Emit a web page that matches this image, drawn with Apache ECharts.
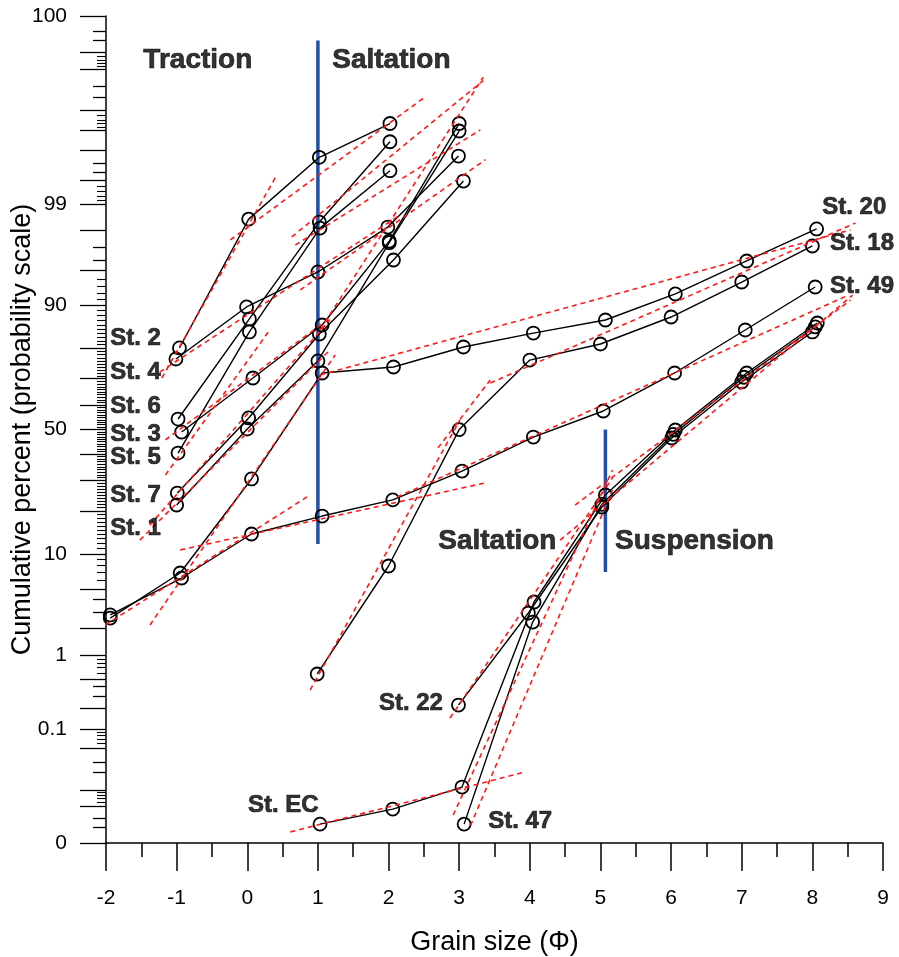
<!DOCTYPE html>
<html><head><meta charset="utf-8">
<script src="https://cdn.jsdelivr.net/npm/echarts@6/dist/echarts.min.js"></script>
<style>html,body{margin:0;padding:0;background:#fff}#c{width:899px;height:957px}</style>
</head><body><div id="c"></div>
<script>
// ---- axis definitions (percent) ----
const yAxisMinPct = 0.001, yAxisMaxPct = 99.999;
const yLabelPcts = [0.001, 0.1, 1, 10, 50, 90, 99, 99.999];
const yLabelTexts = ['0', '0.1', '1', '10', '50', '90', '99', '100'];
const yLongTickPcts = [0.001,0.005,0.01,0.05,0.1,0.2,0.5,1,2,5,10,20,30,40,50,60,70,80,90,95,98,99,99.5,99.8,99.9,99.95,99.99,99.995,99.999];
const yShortTickPcts = [0.002,0.003,0.02,0.03,0.3,0.4,3,4,96,97,99.6,99.7,99.97,99.98,99.997,99.998];
const yTinyTickPcts = [0.006,0.007,0.008,0.009,0.06,0.07,0.08,0.09,0.6,0.7,0.8,0.9,6,7,8,9,
  11,12,13,14,15,16,17,18,19,21,22,23,24,25,26,27,28,29,31,32,33,34,35,36,37,38,39,41,42,43,44,45,46,47,48,49,
  51,52,53,54,55,56,57,58,59,61,62,63,64,65,66,67,68,69,71,72,73,74,75,76,77,78,79,81,82,83,84,85,86,87,88,89,
  91,92,93,94,99.1,99.2,99.3,99.4,99.91,99.92,99.93,99.94,99.991,99.992,99.993,99.994];

// ---- stations: grain size (phi) and cumulative percent ----
const st2_x = [-0.96, 0.02, 1.02, 2.02];
const st2_p = [79.98, 98.50, 99.75, 99.92];
const st4_x = [-1.01, -0.01, 1.0, 1.99, 2.99];
const st4_p = [76.65, 89.69, 94.79, 98.16, 99.76];
const st6_x = [-0.98, 0.03, 1.02, 2.02];
const st6_p = [54.3, 87.29, 98.38, 99.85];
const st3_x = [-0.93, 0.08, 1.06, 2.01, 3.00];
const st3_p = [48.96, 70.23, 85.95, 97.4, 99.92];
const st5_x = [-0.98, 0.03, 1.03, 2.02];
const st5_p = [40.4, 84.28, 98.11, 99.62];
const st7_x = [-0.99, 0.02, 1.02, 2.07, 3.06];
const st7_p = [25.6, 54.74, 83.77, 95.98, 99.48];
const st1_x = [-1.0, 0.0, 1.0, 2.01, 3.0];
const st1_p = [21.8, 50.2, 76.02, 97.3, 99.896];
const st20_x = [-1.94, -0.95, 0.06, 1.06, 2.07, 3.06, 4.05, 5.07, 6.06, 7.07, 8.06];
const st20_p = [2.59, 6.94, 30.5, 72.0, 74.05, 80.26, 84.0, 87.06, 91.9, 95.89, 98.07];
const st49_x = [-1.94, -0.93, 0.06, 1.06, 2.06, 3.04, 4.05, 5.04, 6.05, 7.05, 8.04];
const st49_p = [2.79, 6.28, 14.05, 18.6, 23.4, 33.4, 46.9, 57.57, 72.0, 84.76, 92.92];
const st18_x = [0.99, 2.0, 3.0, 4.0, 5.0, 6.0, 7.0, 8.0];
const st18_p = [0.584, 7.96, 49.96, 76.3, 81.11, 87.7, 93.59, 97.08];
const st22_x = [2.99, 3.98, 5.02, 6.01, 7.0, 8.0];
const st22_p = [0.224, 2.92, 21.2, 46.5, 68.8, 84.28];
const st47_x = [3.07, 4.04, 5.02, 6.03, 7.03, 8.04];
const st47_p = [0.00235, 2.35, 22.0, 48.0, 70.5, 85.5];
const stEC_x = [1.03, 2.06, 3.04, 4.06, 5.07, 6.06, 7.07, 8.07];
const stEC_p = [0.00235, 0.00452, 0.0113, 3.76, 24.97, 49.8, 72.0, 86.4];

// ---- fitted population segments (dashed): [x1, p1, x2, p2] ----
const fitSegments = [
  [-1.21, 70.2, 0.42, 99.57],
  [-0.24, 97.47, 2.52, 99.97],
  [0.63, 97.65, 3.34, 99.984],
  [0.68, 97.15, 3.30, 99.9],
  [0.75, 92.5, 3.37, 99.73],
  [1.03, 84.8, 3.34, 99.986],
  [-1.24, 72.3, 2.16, 98.65],
  [-1.16, 45.7, 1.17, 87.5],
  [-1.16, 31.9, 0.32, 84.8],
  [-1.38, 16.2, 1.17, 87.1],
  [-1.52, 12.7, 1.17, 79.4],
  [-2.01, 2.19, 0.89, 24.97],
  [-0.95, 10.7, 3.37, 29.1],
  [2.12, 24.3, 8.51, 91.7],
  [-1.377, 2.19, 1.244, 77.9],
  [1.03, 71.3, 8.54, 98.02],
  [0.89, 0.36, 3.01, 53.9],
  [2.70, 42.5, 3.44, 69.5],
  [3.44, 68.4, 8.61, 98.34],
  [0.61, 0.00166, 3.93, 0.0205],
  [2.87, 0.146, 5.17, 30.8],
  [2.915, 0.0035, 5.17, 33.8],
  [3.16, 0.0022, 5.17, 26.6],
  [4.43, 12.7, 8.57, 91.7],
  [4.64, 21.8, 8.54, 90.9]
];

// ---- boundary lines and annotations ----
const boundaryLines = [[1.0, 99.997, 1.0, 11.9], [5.07, 50, 5.07, 7.08]];
const zoneLabels = [['Traction', -0.70, 99.993], ['Saltation', 2.04, 99.993], ['Saltation', 3.54, 12.5], ['Suspension', 6.33, 12.5]];
const stLeftLabels = [['St. 2', -1.94, 82.7], ['St. 4', -1.94, 72.3], ['St. 6', -1.94, 59.6], ['St. 3', -1.94, 48.2], ['St. 5', -1.94, 38.8], ['St. 7', -1.94, 24.97], ['St. 1', -1.94, 15.5],
  ['St. 20', 8.14, 98.91], ['St. 18', 8.25, 97.28], ['St. 49', 8.25, 93.06], ['St. EC', 0.01, 0.0054], ['St. 47', 3.41, 0.0027]];
const stRightLabels = [['St. 22', 2.77, 0.239]];

// ---- probit transform ----
function probit(p){
  const a=[-3.969683028665376e+01,2.209460984245205e+02,-2.759285104469687e+02,1.383577518672690e+02,-3.066479806614716e+01,2.506628277459239e+00];
  const b=[-5.447609879822406e+01,1.615858368580409e+02,-1.556989798598866e+02,6.680131188771972e+01,-1.328068155288572e+01];
  const c=[-7.784894002430293e-03,-3.223964580411365e-01,-2.400758277161838e+00,-2.549732467911419e+00,4.374664141464968e+00,2.938163982698783e+00];
  const d=[7.784695709041462e-03,3.224671290700398e-01,2.445134137142996e+00,3.754408661907416e+00];
  const pl=0.02425, ph=1-pl; let q,r;
  if(p<pl){q=Math.sqrt(-2*Math.log(p));return (((((c[0]*q+c[1])*q+c[2])*q+c[3])*q+c[4])*q+c[5])/((((d[0]*q+d[1])*q+d[2])*q+d[3])*q+1);}
  if(p<=ph){q=p-0.5;r=q*q;return (((((a[0]*r+a[1])*r+a[2])*r+a[3])*r+a[4])*r+a[5])*q/(((((b[0]*r+b[1])*r+b[2])*r+b[3])*r+b[4])*r+1);}
  q=Math.sqrt(-2*Math.log(1-p));return -(((((c[0]*q+c[1])*q+c[2])*q+c[3])*q+c[4])*q+c[5])/((((d[0]*q+d[1])*q+d[2])*q+d[3])*q+1);
}
const Y = pct => probit(pct/100);
const yMin = Y(yAxisMinPct), yMax = Y(yAxisMaxPct);

const stations = [
  [st2_x, st2_p], [st4_x, st4_p], [st6_x, st6_p], [st3_x, st3_p], [st5_x, st5_p], [st7_x, st7_p], [st1_x, st1_p],
  [st20_x, st20_p], [st49_x, st49_p], [st18_x, st18_p], [st22_x, st22_p], [st47_x, st47_p], [stEC_x, stEC_p]
];

const FONT = 'Liberation Sans, Arial, sans-serif';
const series = [];
stations.forEach(([xs, ps]) => {
  series.push({
    type: 'line', xAxisIndex: 0, yAxisIndex: 0, z: 3,
    data: xs.map((x, i) => [x, Y(ps[i])]),
    symbol: 'circle', symbolSize: 13,
    lineStyle: {color: '#000', width: 1.4},
    itemStyle: {color: 'rgba(255,255,255,0)', borderColor: '#000', borderWidth: 1.8},
    silent: true, animation: false
  });
});
fitSegments.forEach(s => {
  series.push({
    type: 'line', z: 4, symbol: 'none', silent: true, animation: false,
    data: [[s[0], Y(s[1])], [s[2], Y(s[3])]],
    lineStyle: {color: '#ff1a1a', width: 1.6, type: [5, 4]}
  });
});
boundaryLines.forEach(s => {
  series.push({
    type: 'line', z: 2, symbol: 'none', silent: true, animation: false,
    data: [[s[0], Y(s[1])], [s[2], Y(s[3])]],
    lineStyle: {color: '#2150a6', width: 3.5}
  });
});
const txt = {color: '#000', fontFamily: FONT, fontWeight: 'bold', textBorderColor: '#000', textBorderWidth: 0.7};
series.push({
  type: 'scatter', symbolSize: 0, silent: true, animation: false, z: 6,
  data: zoneLabels.map(l => ({name: l[0], value: [l[1], Y(l[2])]})),
  label: Object.assign({show: true, position: 'inside', formatter: p => p.name, fontSize: 28}, txt)
});
series.push({
  type: 'scatter', symbolSize: 0, silent: true, animation: false, z: 6,
  data: stLeftLabels.map(l => ({name: l[0], value: [l[1], Y(l[2])]})),
  label: Object.assign({show: true, position: 'right', distance: 0, formatter: p => p.name, fontSize: 24}, txt)
});
series.push({
  type: 'scatter', symbolSize: 0, silent: true, animation: false, z: 6,
  data: stRightLabels.map(l => ({name: l[0], value: [l[1], Y(l[2])]})),
  label: Object.assign({show: true, position: 'left', distance: 0, formatter: p => p.name, fontSize: 24}, txt)
});

const labelPos = yLabelPcts.map(Y);
function yFmt(v){
  let best = 0, bd = Infinity;
  labelPos.forEach((lp, i) => { const d = Math.abs(lp - v); if (d < bd) { bd = d; best = i; } });
  return yLabelTexts[best];
}
const baseY = {
  type: 'value', min: yMin, max: yMax, position: 'left', splitLine: {show: false}
};
const option = {
  backgroundColor: '#fff',
  animation: false,
  grid: {left: 106, right: 16, top: 16, bottom: 114, containLabel: false, outerBoundsMode: 'none'},
  xAxis: [
    {type: 'value', min: -2, max: 9, interval: 1, position: 'bottom',
     axisLine: {show: true, onZero: false, lineStyle: {color: '#000', width: 1.5}},
     axisTick: {show: true, length: 28, lineStyle: {color: '#000', width: 1.5}},
     axisLabel: {show: true, margin: 45, fontSize: 21, color: '#000', fontFamily: FONT, formatter: v => String(v)},
     splitLine: {show: false},
     name: 'Grain size (Φ)', nameLocation: 'middle', nameGap: 86, nameMoveOverlap: false,
     nameTextStyle: {fontSize: 27, color: '#000', fontFamily: FONT}},
    {type: 'value', min: -2, max: 9, interval: 0.5, position: 'bottom',
     axisLine: {show: false, onZero: false}, axisLabel: {show: false}, splitLine: {show: false},
     axisTick: {show: true, length: 14, lineStyle: {color: '#000', width: 1.5}}}
  ],
  yAxis: [
    Object.assign({}, baseY, {
      axisLine: {show: true, onZero: false, lineStyle: {color: '#000', width: 1.5}},
      axisTick: {show: true, length: 26, customValues: yLongTickPcts.map(Y), lineStyle: {color: '#000', width: 1.3}},
      axisLabel: {show: true, margin: 39, fontSize: 21, color: '#000', fontFamily: FONT, customValues: labelPos, formatter: yFmt},
      name: 'Cumulative percent (probability scale)', nameLocation: 'middle', nameGap: 70, nameRotate: 90, nameMoveOverlap: false,
      nameTextStyle: {fontSize: 27, color: '#000', fontFamily: FONT}
    }),
    Object.assign({}, baseY, {
      axisLine: {show: false, onZero: false}, axisLabel: {show: false},
      axisTick: {show: true, length: 13, customValues: yShortTickPcts.map(Y), lineStyle: {color: '#000', width: 1.3}}
    }),
    Object.assign({}, baseY, {
      axisLine: {show: false, onZero: false}, axisLabel: {show: false},
      axisTick: {show: true, length: 9, customValues: yTinyTickPcts.map(Y), lineStyle: {color: '#000', width: 1.1}}
    })
  ],
  series: series
};
const chart = echarts.init(document.getElementById('c'), null, {renderer: 'canvas'});
chart.setOption(option);
</script>
</body></html>
